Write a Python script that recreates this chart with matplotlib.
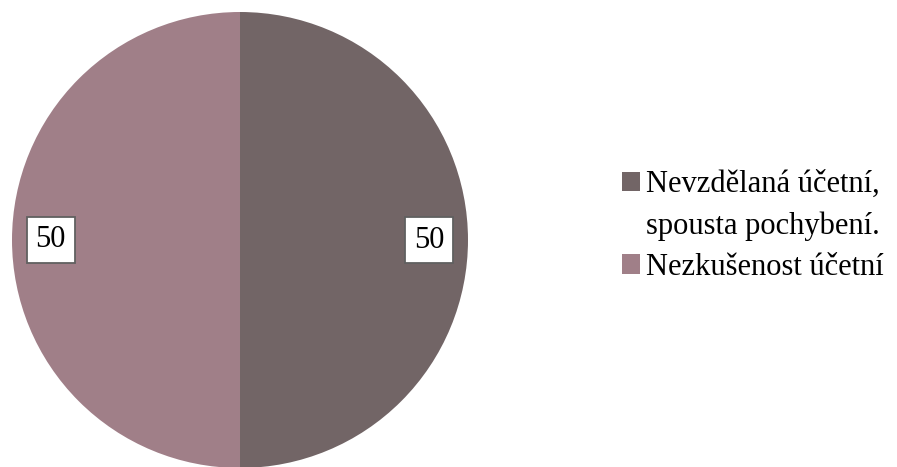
import matplotlib
matplotlib.use('Agg')
import matplotlib.pyplot as plt
from matplotlib.patches import Rectangle

labels = ['Nevzdělaná účetní,\nspousta pochybení.', 'Nezkušenost účetní']
values = [50, 50]
colors = ['#726566', '#A07F88']

plt.rcParams['font.family'] = ['Liberation Serif', 'DejaVu Serif']

W, H = 897, 467
fig = plt.figure(figsize=(W / 100, H / 100), dpi=100)
# pie centre (240, 240) px, radius 228 px
cx, cy, r = 240, 240, 228
ax = fig.add_axes([(cx - r) / W, (H - cy - r) / H, 2 * r / W, 2 * r / H])

wedges, texts, autotexts = ax.pie(values, colors=colors, startangle=90, counterclock=False,
                                  autopct=lambda p: '%d' % round(p * sum(values) / 100),
                                  pctdistance=0.83, radius=1,
                                  wedgeprops=dict(linewidth=0))
for t in autotexts:
    t.set_fontsize(22)
    t.set_color('black')
    t.set_bbox(dict(boxstyle='square,pad=0.28', facecolor='white', edgecolor='#606060', linewidth=1.3))
ax.set_xlim(-1, 1)
ax.set_ylim(-1, 1)
ax.set_aspect('equal')
ax.axis('off')

# legend: square sits on the first line of a wrapped label
handles, leg_labels = [], []
for w, lab in zip(wedges, labels):
    for i, line in enumerate(lab.split('\n')):
        if i == 0:
            handles.append(Rectangle((0, 0), 1, 1, facecolor=w.get_facecolor(), linewidth=0))
        else:
            handles.append(Rectangle((0, 0), 1, 1, visible=False))
        leg_labels.append(line)

leg = fig.legend(handles, leg_labels, loc='upper left', bbox_to_anchor=(622 / W, 1 - 170 / H),
                 frameon=False, fontsize=22, handlelength=0.6, handleheight=0.6,
                 handletextpad=0.2, labelspacing=0.4, borderpad=0, borderaxespad=0)

fig.savefig('out.png', dpi=100)
